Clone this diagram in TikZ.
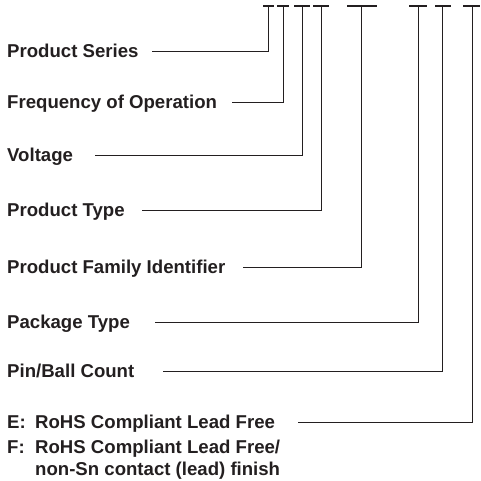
\documentclass[tikz,border=0pt]{standalone}
\usepackage{fontspec}
\setmainfont{Liberation Sans}
\usetikzlibrary{positioning}
\definecolor{ink}{RGB}{35,31,32}
\tikzset{
  lbl/.style={anchor=west,inner xsep=0pt,inner ysep=0pt,text height=13.5pt,text depth=0pt,
    font=\bfseries\fontsize{18.6}{22.5}\selectfont,text=ink},
  note/.style={anchor=north west,inner sep=0pt,align=left,
    font=\bfseries\fontsize{18.6}{22.5}\selectfont,text=ink},
  lead/.style={draw=ink,line width=0.9pt},
  bar/.style={draw=ink,line width=2.4pt},
}
\begin{document}
\begin{tikzpicture}[x=1pt,y=-1pt]
\useasboundingbox (0,0) rectangle (481,480);
% the part number fields along the top
\foreach \i/\x/\a/\b in {1/268/263/274,2/283/277/289,3/302/294/310,4/321/313/329,
  5/361/347/377,6/418/409/427,7/442/435/451,8/472/463/480}{
  \draw[bar] (\a,6)--(\b,6);
  \coordinate (b\i) at (\x,6);
}
% labels and their leads
\foreach \i/\txt/\sx/\y in {1/Product Series/152/51,2/Frequency of Operation/232/102,
  3/Voltage/95/155,4/Product Type/142/210,5/Product Family Identifier/243/267,
  6/Package Type/155/322,7/{Pin/Ball Count}/163/371,
  8/{\makebox[28pt][l]{E:}RoHS Compliant Lead Free}/298/422}{
  \node[lbl] (l\i) at (7,\y) {\txt};
  \coordinate (s\i) at (\sx,\y);
  \draw[lead] (s\i) -| (b\i);
}
\node[note] (fin) at (7,439.5) {\makebox[28pt][l]{F:}RoHS Compliant Lead Free/\\
  \hspace*{28pt}non-Sn contact (lead) finish};
\end{tikzpicture}
\end{document}
